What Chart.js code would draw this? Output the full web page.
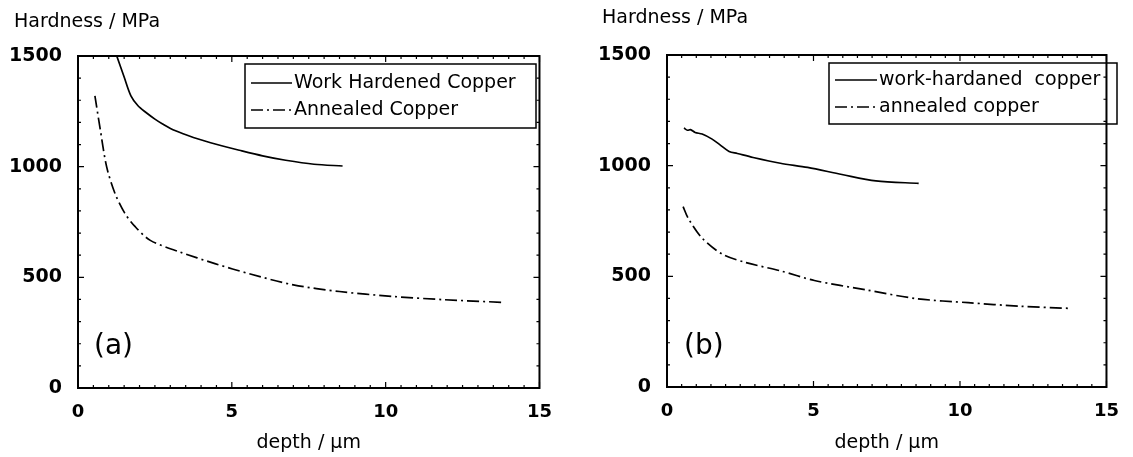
<!DOCTYPE html>
<html>
<head>
<meta charset="utf-8">
<script src="https://cdn.jsdelivr.net/npm/chart.js@4"></script>
<style>
  html, body { margin: 0; padding: 0; background: #fff; }
  #wrap { position: relative; width: 1133px; height: 457px; }
  .panel { position: absolute; top: 0; }
</style>
</head>
<body>
<div id="wrap">
  <div class="panel" style="left:0"><canvas id="chartA" width="566" height="457"></canvas></div>
  <div class="panel" style="left:566px"><canvas id="chartB" width="567" height="457"></canvas></div>
</div>
<script>
// depth in micrometres, hardness in MPa
var depthWorkA = [1.26, 1.5, 1.72, 1.95, 2.2, 2.5, 2.75, 3.15, 3.75, 4.55, 5.25, 6.0, 6.75, 7.67, 8.6];
var hardWorkA  = [1500, 1405, 1320, 1275, 1246, 1215, 1193, 1163, 1132, 1099, 1074, 1049, 1029, 1011, 1003];
var depthAnnA  = [0.55, 0.71, 0.93, 1.2, 1.52, 1.85, 2.35, 3.3, 4.45, 5.6, 7.0, 8.5, 10.2, 11.9, 13.8];
var hardAnnA   = [1320, 1180, 1000, 880, 790, 730, 667, 615, 562, 515, 466, 436, 414, 399, 387];

var depthWorkB = [0.58, 0.7, 0.8, 0.96, 1.2, 1.54, 1.8, 2.12, 2.4, 2.94, 3.87, 4.8, 5.97, 7.13, 8.59];
var hardWorkB  = [1170, 1160, 1163, 1150, 1143, 1120, 1095, 1064, 1055, 1037, 1011, 992, 960, 931, 920];
var depthAnnB  = [0.55, 0.72, 1.19, 1.89, 2.7, 3.87, 5.03, 6.78, 8.53, 10.28, 12.03, 13.8];
var hardAnnB   = [815, 763, 674, 600, 562, 525, 481, 439, 399, 381, 365, 355];

var labelsA = ['Work Hardened Copper', 'Annealed Copper'];
var labelsB = ['work-hardaned  copper', 'annealed copper'];
var panelTags = ['(a)', '(b)'];

var xTicks = [0, 5, 10, 15];
var yTicks = [0, 500, 1000, 1500];
var xMinorStep = 0.5;
var yMinorStep = 100;

Chart.defaults.font.family = "'DejaVu Sans', sans-serif";
Chart.defaults.color = '#000';

function pts(xs, ys) {
  return xs.map(function (x, i) { return { x: x, y: ys[i] }; });
}

var dashDot = [12, 4, 2, 4];

// frame + inward ticks on all four sides
var framePlugin = {
  id: 'frame',
  afterDatasetsDraw: function (chart) {
    var ctx = chart.ctx, a = chart.chartArea;
    var xs = chart.scales.x, ys = chart.scales.y;
    ctx.save();
    ctx.strokeStyle = '#000';
    ctx.lineWidth = 2;
    ctx.strokeRect(a.left, a.top, a.right - a.left, a.bottom - a.top);
    ctx.lineWidth = 1.2;
    ctx.beginPath();
    var v, p, len;
    for (v = xs.min; v <= xs.max + 1e-6; v += xMinorStep) {
      p = xs.getPixelForValue(v);
      len = xTicks.indexOf(Math.round(v * 100) / 100) >= 0 ? 6 : 3;
      ctx.moveTo(p, a.bottom); ctx.lineTo(p, a.bottom - len);
      ctx.moveTo(p, a.top); ctx.lineTo(p, a.top + len);
    }
    for (v = ys.min; v <= ys.max + 1e-6; v += yMinorStep) {
      p = ys.getPixelForValue(v);
      len = yTicks.indexOf(v) >= 0 ? 6 : 3;
      ctx.moveTo(a.left, p); ctx.lineTo(a.left + len, p);
      ctx.moveTo(a.right, p); ctx.lineTo(a.right - len, p);
    }
    ctx.stroke();
    ctx.restore();
  }
};

// boxed legend, axis caption above the y axis and the panel tag
var decorPlugin = {
  id: 'decor',
  afterDraw: function (chart, args, o) {
    var ctx = chart.ctx;
    ctx.save();
    ctx.fillStyle = '#000';
    ctx.strokeStyle = '#000';

    ctx.font = "19px 'DejaVu Sans'";
    ctx.textBaseline = 'middle';
    ctx.textAlign = 'left';
    ctx.fillText('Hardness / MPa', o.capX, o.capY);

    ctx.font = "28px 'DejaVu Sans'";
    ctx.fillText(o.tag, o.tagX, o.tagY);

    var L = o.legend;
    ctx.lineWidth = 1.5;
    ctx.strokeRect(L.x, L.y, L.w, L.h);
    ctx.font = "19px 'DejaVu Sans'";
    chart.data.datasets.forEach(function (ds, i) {
      var y = L.rows[i];
      ctx.save();
      ctx.lineWidth = 1.6;
      ctx.setLineDash(ds.borderDash || []);
      ctx.beginPath();
      ctx.moveTo(L.lineX1, y);
      ctx.lineTo(L.lineX2, y);
      ctx.stroke();
      ctx.restore();
      ctx.fillText(ds.label, L.textX, y);
    });
    ctx.restore();
  }
};

function plain(v) { return String(v); }

function makeChart(id, geom, sets, labels, decor) {
  var canvas = document.getElementById(id);
  var W = canvas.width, H = canvas.height;
  return new Chart(canvas, {
    type: 'scatter',
    data: {
      datasets: [{
        label: labels[0],
        data: pts(sets[0], sets[1]),
        showLine: true,
        borderColor: '#000',
        borderWidth: 1.7,
        pointRadius: 0,
        tension: 0.3
      }, {
        label: labels[1],
        data: pts(sets[2], sets[3]),
        showLine: true,
        borderColor: '#000',
        borderWidth: 1.7,
        borderDash: dashDot,
        pointRadius: 0,
        tension: 0.3
      }]
    },
    options: {
      responsive: false,
      animation: false,
      layout: { padding: { left: 0, right: W - geom.right, top: geom.top, bottom: 0 } },
      plugins: {
        legend: { display: false },
        tooltip: { enabled: false },
        decor: decor
      },
      scales: {
        x: {
          type: 'linear',
          min: 0,
          max: 15,
          afterBuildTicks: function (s) { s.ticks = xTicks.map(function (v) { return { value: v }; }); },
          afterFit: function (s) { s.height = H - geom.bottom; },
          grid: { display: false, drawTicks: false },
          border: { display: false },
          ticks: { padding: 14, autoSkip: false, maxRotation: 0, callback: plain, font: { size: 18, weight: 'bold' } },
          title: { display: true, text: 'depth / µm', font: { size: 19 }, padding: { top: 0, bottom: 3 } }
        },
        y: {
          type: 'linear',
          min: 0,
          max: 1500,
          afterBuildTicks: function (s) { s.ticks = yTicks.map(function (v) { return { value: v }; }); },
          afterFit: function (s) { s.width = geom.left; },
          grid: { display: false, drawTicks: false },
          border: { display: false },
          ticks: { padding: 16, callback: plain, font: { size: 19, weight: 'bold' } }
        }
      }
    },
    plugins: [framePlugin, decorPlugin]
  });
}

window.onload = function () {
  makeChart('chartA', { left: 78, right: 542, top: 56, bottom: 388 },
    [depthWorkA, hardWorkA, depthAnnA, hardAnnA], labelsA,
    {
      capX: 14, capY: 22, tag: panelTags[0], tagX: 94, tagY: 347,
      legend: { x: 245, y: 64, w: 291, h: 64, lineX1: 251, lineX2: 292, textX: 294, rows: [83, 110] }
    });

  makeChart('chartB', { left: 101, right: 561, top: 55, bottom: 387 },
    [depthWorkB, hardWorkB, depthAnnB, hardAnnB], labelsB,
    {
      capX: 36, capY: 18, tag: panelTags[1], tagX: 118, tagY: 347,
      legend: { x: 263, y: 63, w: 288, h: 61, lineX1: 269, lineX2: 311, textX: 313, rows: [80, 107] }
    });
};
</script>
</body>
</html>
